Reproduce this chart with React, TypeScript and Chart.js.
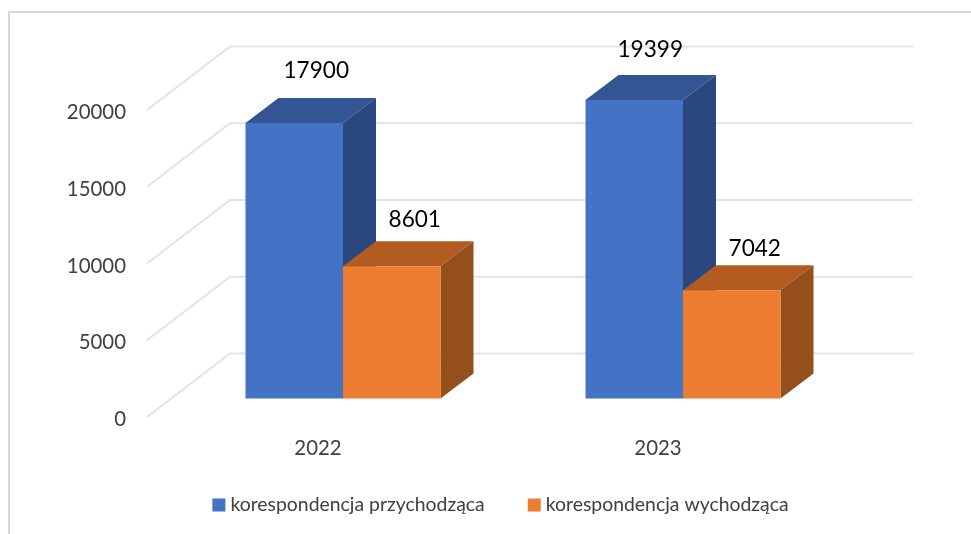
import React, { useEffect, useRef } from "react";
import { Chart, registerables } from "chart.js";

Chart.register(...registerables);

const categories = ["2022", "2023"];
const seriesNames = ["korespondencja przychodząca", "korespondencja wychodząca"];
const incoming = [17900, 19399];
const outgoing = [8601, 7042];
const yTicks = [0, 5000, 10000, 15000, 20000];

const FONT = "Lato";
const frontColors = ["#4472C4", "#ED7D31"];
const topColors = ["#335593", "#B25C22"];
const sideColors = ["#2A477F", "#944F1C"];
const DEPTH_X = 33;
const DEPTH_Y = 25;
const WALL_X = 230;
const WALL_RIGHT = 913;
const FLOOR_X = 147;
const WALL_RISE = 63.5;
const labelShift = [
  [[22, -52.5], [16, -50]],
  [[23, -46], [23, -41]],
];

const poly = (ctx: CanvasRenderingContext2D, pts: number[][], color: string) => {
  ctx.fillStyle = color;
  ctx.beginPath();
  pts.forEach(([x, y], i) => (i ? ctx.lineTo(x, y) : ctx.moveTo(x, y)));
  ctx.closePath();
  ctx.fill();
};

const bars3d = {
  id: "bars3d",
  afterLayout(chart: any) {
    // let the category labels extend past their thin axis box, into the legend's band
    chart.scales.x.bottom = chart.scales.x.top + 60;
  },
  beforeDatasetsDraw(chart: any) {
    const { ctx } = chart;
    const axis = chart.scales.y;
    ctx.save();
    yTicks.forEach((v) => {
      const py = axis.getPixelForValue(v);
      ctx.strokeStyle = "#E3E3E3";
      ctx.lineWidth = 2;
      ctx.beginPath();
      ctx.moveTo(FLOOR_X, py);
      ctx.lineTo(WALL_X, py - WALL_RISE);
      ctx.lineTo(WALL_RIGHT, py - WALL_RISE);
      ctx.stroke();
    });
    chart.data.datasets.forEach((_: any, d: number) => {
      chart.getDatasetMeta(d).data.forEach((bar: any) => {
        const l = bar.x - bar.width / 2;
        const r = bar.x + bar.width / 2;
        const t = bar.y;
        const b = bar.base;
        poly(ctx, [[l, t], [l + DEPTH_X, t - DEPTH_Y], [r + DEPTH_X, t - DEPTH_Y], [r, t]], topColors[d]);
        poly(ctx, [[r, t], [r + DEPTH_X, t - DEPTH_Y], [r + DEPTH_X, b - DEPTH_Y], [r, b]], sideColors[d]);
      });
    });
    ctx.restore();
  },
  afterDatasetsDraw(chart: any) {
    const { ctx } = chart;
    ctx.save();
    ctx.fillStyle = "#000000";
    ctx.font = `22.6px ${FONT}`;
    ctx.textAlign = "center";
    ctx.textBaseline = "middle";
    chart.data.datasets.forEach((ds: any, d: number) => {
      chart.getDatasetMeta(d).data.forEach((bar: any, i: number) => {
        const [dx, dy] = labelShift[d][i];
        ctx.fillText(String(ds.data[i]), bar.x + dx, bar.y + dy);
      });
    });
    ctx.restore();
  },
};

export default function App() {
  const ref = useRef<HTMLCanvasElement>(null);
  useEffect(() => {
    const chart = new Chart(ref.current as HTMLCanvasElement, {
      type: "bar",
      data: {
        labels: categories,
        datasets: [
          { label: seriesNames[0], data: incoming, backgroundColor: frontColors[0], yAxisID: "yBars", pointStyle: "rect" },
          { label: seriesNames[1], data: outgoing, backgroundColor: frontColors[1], yAxisID: "yBars", pointStyle: "rect" },
        ],
      } as any,
      options: {
        responsive: false,
        animation: false,
        layout: { padding: { left: 34.7, top: 47, right: 0, bottom: 9.4 } },
        datasets: { bar: { categoryPercentage: 0.5735, barPercentage: 1 } },
        plugins: {
          legend: {
            position: "bottom",
            labels: {
              usePointStyle: true,
              boxWidth: 3.6,
              boxHeight: 13,
              padding: 47.7,
              color: "#404040",
              font: { family: FONT, size: 19.4 },
            },
          },
          tooltip: { enabled: false },
        },
        scales: {
          x: {
            grid: { display: false, drawTicks: false },
            border: { display: false },
            ticks: { color: "#404040", font: { family: FONT, size: 20.4 }, labelOffset: -25, padding: 19 },
            afterFit: (s: any) => { s.height = 30.5; },
          },
          y: {
            position: "left",
            min: 0,
            max: 24104,
            grid: { display: false, drawTicks: false },
            border: { display: false },
            ticks: {
              color: "#404040",
              font: { family: FONT, size: 20.4 },
              padding: 47,
              labelOffset: 2.5,
              stepSize: 5000,
              callback: (v: any) => String(v),
            },
            afterBuildTicks: (s: any) => { s.ticks = yTicks.map((value) => ({ value })); },
            afterFit: (s: any) => { s.width = 138.3; s.paddingTop = 0; s.paddingBottom = 0; },
          },
          yBars: {
            position: "right",
            min: -1202,
            max: 22840,
            grid: { display: false, drawTicks: false },
            border: { display: false },
            ticks: { display: false },
            afterFit: (s: any) => { s.width = 118; s.paddingTop = 0; s.paddingBottom = 0; },
          },
        },
      } as any,
      plugins: [bars3d],
    });
    return () => chart.destroy();
  }, []);
  return (
    <div style={{ position: "fixed", left: 0, top: 0, width: 971, height: 534, background: "#fff", overflow: "hidden" }}>
      <div style={{ position: "absolute", left: 8, top: 11, width: 1000, height: 600, borderLeft: "2px solid #D9D9D9", borderTop: "2px solid #D9D9D9" }} />
      <canvas ref={ref} width={971} height={534} style={{ position: "absolute", left: 0, top: 0, display: "block", filter: "blur(0.4px)" }} />
    </div>
  );
}
